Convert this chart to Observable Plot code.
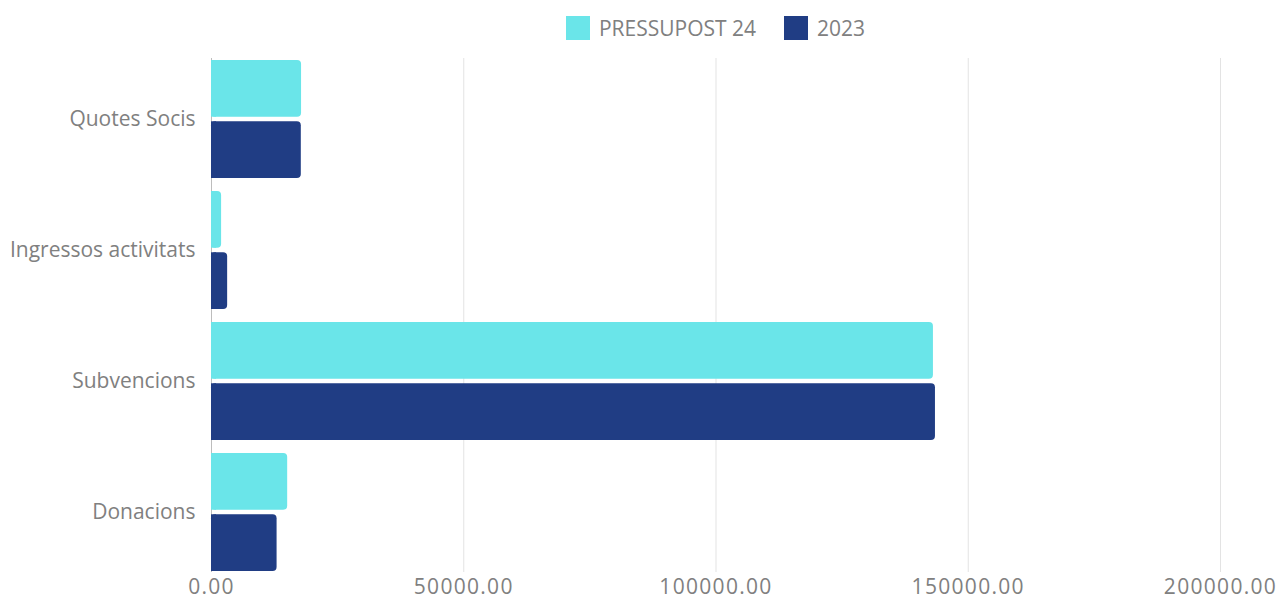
<!DOCTYPE html>
<html>
<head>
<meta charset="utf-8">
<script src="https://cdn.jsdelivr.net/npm/d3@7"></script>
<script src="https://cdn.jsdelivr.net/npm/@observablehq/plot@0.6"></script>
<style>
  html, body { margin: 0; padding: 0; background: #fff; }
  body { width: 1280px; height: 601px; overflow: hidden; font-family: "Open Sans", sans-serif; }
  #legend { height: 50px; box-sizing: border-box; padding-left: 211px; padding-right: 60px; padding-top: 6px;
    display: flex; justify-content: center; align-items: center; gap: 28px; color: #808080; font-size: 21px; }
  .item { display: flex; align-items: center; gap: 9px; }
  .sw { width: 24px; height: 24px; display: inline-block; }
  svg { display: block; }
  .xax text { letter-spacing: 1.3px; }
</style>
</head>
<body>
<div id="legend"></div>
<div id="chart"></div>
<script>
const categories = ["Quotes Socis", "Ingressos activitats", "Subvencions", "Donacions"];
const seriesNames = ["PRESSUPOST 24", "2023"];
const pressupost24 = [17850, 2000, 143100, 15100];
const y2023 = [17800, 3200, 143500, 13000];
const xTicks = [0, 50000, 100000, 150000, 200000];
const colors = ["#6ae5e9", "#203d84"];

const dataA = categories.map((c, i) => ({category: c, value: pressupost24[i]}));
const dataB = categories.map((c, i) => ({category: c, value: y2023[i]}));

const legend = document.getElementById("legend");
seriesNames.forEach((s, i) => {
  const it = document.createElement("div");
  it.className = "item";
  it.innerHTML = `<span class="sw" style="background:${colors[i]}"></span><span>${s}</span>`;
  legend.appendChild(it);
});

const inset = 61.3;
const sq = d => ({...d, cap: Math.min(d.value, 1000)});

const chart = Plot.plot({
  width: 1280,
  height: 551,
  marginLeft: 211,
  marginRight: 60,
  marginTop: 8,
  marginBottom: 29,
  style: {fontFamily: "'Open Sans', sans-serif", fontSize: "21px", color: "#808080", background: "#fff"},
  x: {domain: [0, 200000], ticks: xTicks, tickFormat: d3.format(".2f"), label: null, tickSize: 0, tickPadding: 8},
  y: {domain: categories, paddingInner: 0.1, paddingOuter: 0, label: null, tickSize: 0, tickPadding: 16},
  marks: [
    Plot.ruleX(xTicks.filter(d => d > 0), {stroke: "#e3e3e3", strokeWidth: 1, strokeOpacity: 1}),
    Plot.ruleX([0], {stroke: "#bdbdbd", strokeWidth: 1}),
    Plot.barX(dataA, {x: "value", y: "category", fill: colors[0], rx: 4, insetBottom: inset}),
    Plot.barX(dataA.map(sq), {x: "cap", y: "category", fill: colors[0], insetBottom: inset}),
    Plot.barX(dataB, {x: "value", y: "category", fill: colors[1], rx: 4, insetTop: inset}),
    Plot.barX(dataB.map(sq), {x: "cap", y: "category", fill: colors[1], insetTop: inset}),
    Plot.axisX({ticks: xTicks, tickFormat: d3.format(".2f"), tickSize: 0, tickPadding: 7, label: null, fontSize: 21, className: "xax"}),
    Plot.axisY({tickSize: 0, tickPadding: 16, label: null, fontSize: 21})
  ]
});
document.getElementById("chart").appendChild(chart);
</script>
</body>
</html>
